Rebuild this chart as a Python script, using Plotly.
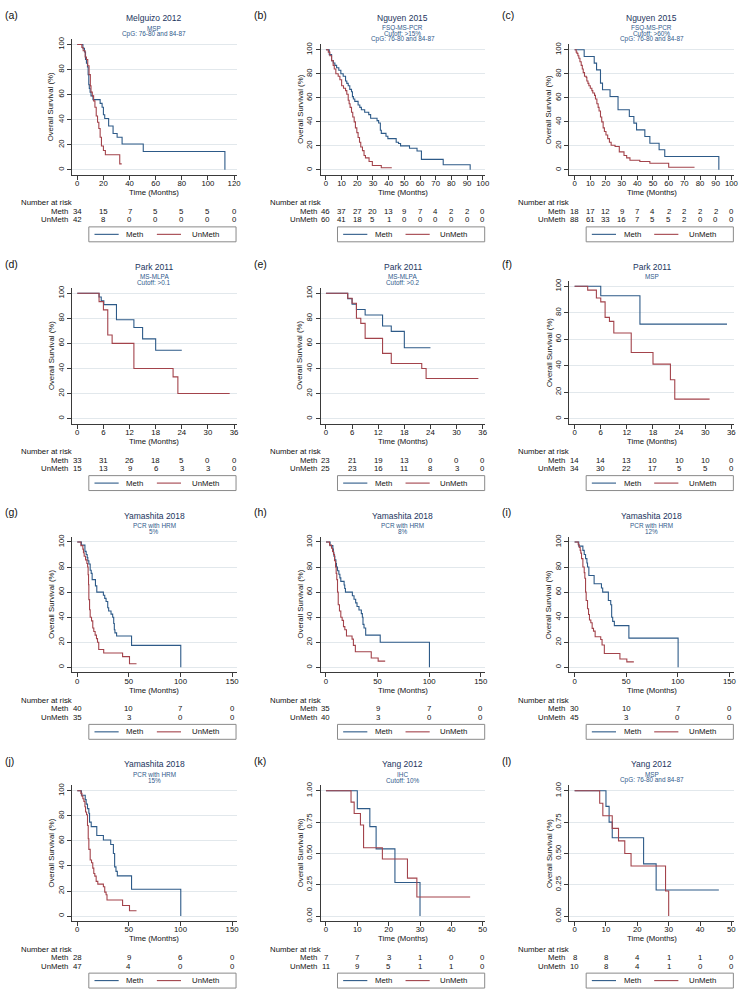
import plotly.graph_objects as go

# ---------------- data ----------------
# (a) Melguizo 2012
a_meth_t = [0, 4.3, 5.5, 6.3, 7, 7.8, 8.3, 8.8, 9.2, 9.8, 10.5, 12, 17.5, 19, 20, 21, 24, 27.4, 30.5, 34.3, 50.5, 113]
a_meth_s = [100, 97, 94, 88, 85, 82, 76, 68, 65, 62, 59, 56, 53, 50, 44, 41, 35, 29, 26, 20.6, 14.7, 0]
a_unmeth_t = [0, 3.5, 4.5, 6, 7, 8, 9, 10, 10.5, 11.5, 12.5, 13.5, 14.5, 15.5, 16.5, 17.5, 18.5, 20, 21.5, 32.5, 34]
a_unmeth_s = [100, 97.6, 95, 90, 88, 83, 76, 67, 62, 59, 55, 50, 43, 38, 33, 26, 19, 15.5, 12, 4.8, 4.8]
a_risk_meth = [34, 15, 7, 5, 5, 5, 0]
a_risk_unmeth = [42, 8, 0, 0, 0, 0, 0]

# (b) Nguyen 2015 >15%
b_meth_t = [0, 2.1, 3.6, 4.7, 5.7, 6.8, 8.2, 9.5, 11, 12.5, 13.3, 14.2, 15.2, 16.3, 16.9, 17.5, 18.4, 20.5, 21.6, 22.6,
            24.7, 27.3, 28.5, 32.6, 33.6, 34.7, 35.3, 38.3, 39.5, 44.8, 46.3, 47.6, 53.3, 58.1, 60.9, 74.8, 92]
b_meth_s = [100, 96, 91, 89, 87, 85, 83, 80, 78, 74, 72, 70, 67, 65, 61, 59, 57, 54, 52, 50,
            48, 46, 43, 41, 39, 33, 30.4, 28, 26, 23, 22, 20, 18, 15.7, 8.7, 4.3, 0]
b_unmeth_t = [0, 1.5, 2.5, 3.6, 4.6, 5.3, 6.3, 7.8, 8.9, 10, 11.2, 12.5, 13.3, 14.2, 14.8, 15.4, 16.3, 17.1, 18, 18.8,
              19.7, 20.5, 21.4, 22.2, 23.3, 24.3, 25.2, 27.5, 29.6, 35.3, 42]
b_unmeth_s = [100, 98, 95, 91, 87, 84, 80, 78, 75, 70, 68, 66, 63, 58, 55, 52, 48, 44, 40, 35,
              31, 27, 23, 19, 16, 12, 10, 7, 3.6, 1.8, 1.8]
b_risk_meth = [46, 37, 27, 20, 13, 9, 7, 4, 2, 2, 0]
b_risk_unmeth = [60, 41, 18, 5, 1, 0, 0, 0, 0, 0, 0]

# (c) Nguyen 2015 >60%
c_meth_t = [0, 6.1, 12.5, 14, 16.5, 17.8, 22.6, 27.7, 34.9, 37.8, 39.5, 44.8, 48, 53.9, 57.5, 92]
c_meth_s = [100, 94.4, 88.9, 83.3, 72.2, 66.7, 61.1, 50, 44.4, 38.9, 33.3, 27.8, 22.2, 16.7, 11.1, 0]
c_unmeth_t = [0, 1, 1.5, 2.1, 2.7, 3.4, 4.2, 4.9, 5.5, 6.3, 7.4, 7.8, 8.5, 9.1, 10, 11, 11.6, 12.7, 13.3, 14.2,
              15, 15.6, 16.5, 17.3, 18.2, 19, 20, 21.1, 22.2, 23.3, 25.8, 28.5, 31.5, 33.2, 35.3, 41.6, 48, 60, 76.5]
c_unmeth_s = [100, 98, 97, 95, 93, 90, 87, 84, 81, 78, 77, 74, 72, 70, 68, 66, 64, 62, 59, 55,
              52, 49, 44, 40, 35, 32, 29, 26, 23, 20.5, 19.5, 15, 12, 10, 8, 7, 5.5, 2.2, 2.2]
c_risk_meth = [18, 17, 12, 9, 7, 4, 2, 2, 2, 2, 0]
c_risk_unmeth = [88, 61, 33, 16, 7, 5, 5, 2, 0, 0, 0]

# (d) Park 2011 MS-MLPA >0.1
d_meth_t = [0, 5, 5.5, 6.1, 9, 13, 15, 18, 24]
d_meth_s = [100, 97, 93.9, 90.9, 78.8, 72.7, 63.6, 54.5, 54.5]
d_unmeth_t = [0, 5, 6, 7, 8, 13, 22, 23.1, 35]
d_unmeth_s = [100, 93.3, 86.7, 66.7, 60, 40, 33.3, 20, 20]
d_risk_meth = [33, 31, 26, 18, 5, 0, 0]
d_risk_unmeth = [15, 13, 9, 6, 3, 3, 0]

# (e) Park 2011 MS-MLPA >0.2
e_meth_t = [0, 5, 6, 7, 9, 13, 15, 18, 24]
e_meth_s = [100, 95.7, 91.3, 87, 82.6, 73.9, 69.6, 56.5, 56.5]
e_unmeth_t = [0, 5, 6, 7, 8, 9, 13, 15, 22, 23, 35]
e_unmeth_s = [100, 96, 92, 80, 76, 64, 52, 44, 40, 32, 32]
e_risk_meth = [23, 21, 19, 13, 0, 0, 0]
e_risk_unmeth = [25, 23, 16, 11, 8, 3, 0]

# (f) Park 2011 MSP
f_meth_t = [0, 6, 15, 35]
f_meth_s = [100, 92.9, 71.4, 71.4]
f_unmeth_t = [0, 3, 5, 6, 7, 8, 9, 13, 18, 22, 23, 31]
f_unmeth_s = [100, 97.1, 91.2, 88.2, 76.5, 73.5, 64.7, 50, 41.2, 29.4, 14.7, 14.7]
f_risk_meth = [14, 14, 13, 10, 10, 10, 0]
f_risk_unmeth = [34, 30, 22, 17, 5, 5, 0]

# (g) Yamashita 2018 5%
g_meth_t = [0, 4, 7.4, 8.6, 9.6, 10.2, 11.2, 12.5, 13.5, 14.4, 17.6, 18.9, 25.3, 26.6, 27.9, 29.5, 30.4, 32.7, 34.3, 35.3,
            35.9, 36.5, 38.1, 52.6, 100.3]
g_meth_s = [100, 97.5, 92.5, 90, 87.5, 85, 82.5, 77.5, 75, 70, 65, 60, 57.5, 55, 52.5, 47.5, 45, 42.5, 40, 35,
            30, 27.5, 25, 17.5, 0]
g_unmeth_t = [0, 3.5, 5.4, 6, 6.7, 8, 9.3, 10, 10.5, 10.9, 11.2, 11.9, 12.5, 13.8, 15, 16, 17.3, 18.6, 19.6, 20.8,
              25.6, 43.9, 50.6, 57.4]
g_unmeth_s = [100, 97.1, 94.3, 91.4, 88.6, 85.7, 82.9, 80, 74, 66, 54, 46, 40, 37.1, 31.4, 28.6, 25.7, 22.9, 20, 14.3,
              11.4, 8.6, 2.9, 2.9]
g_risk_meth = [40, 10, 7, 0]
g_risk_unmeth = [35, 3, 0, 0]

# (h) Yamashita 2018 8%
h_meth_t = [0, 4, 6.7, 7.2, 7.7, 8.6, 9.6, 10.2, 11.2, 12.5, 13.5, 14.4, 17.6, 18.2, 18.9, 25.6, 27.2, 28.8, 30.1, 32,
            34.3, 35.3, 35.9, 36.9, 38.5, 52.6, 100.3]
h_meth_s = [100, 97.1, 94.3, 91.4, 88.6, 85.7, 82.9, 80, 77.1, 74.3, 71.4, 68.6, 65.7, 62.9, 60, 57.1, 54.3, 51.4, 48.6, 45.7,
            42.9, 40, 34.3, 31.4, 25.7, 20, 0]
h_unmeth_t = [0, 3.5, 5.4, 6.4, 7.4, 8.3, 9.3, 9.9, 10.5, 11.2, 11.9, 13.1, 14.4, 15.7, 17, 18.3, 19.9, 25.3, 26.6, 28.5,
              43.9, 50.6, 57.4]
h_unmeth_s = [100, 97.5, 95, 92.5, 90, 85, 80, 75, 70, 60, 50, 45, 40, 37.5, 32.5, 30, 25, 22.5, 17.5, 12.5,
              7.5, 5, 5]
h_risk_meth = [35, 9, 7, 0]
h_risk_unmeth = [40, 3, 0, 0]

# (i) Yamashita 2018 12%
i_meth_t = [0, 4, 8, 9.3, 10.6, 11.9, 12.5, 13.8, 18.9, 26, 27.2, 32.7, 35, 35.9, 36.9, 38.5, 52.6, 100.3]
i_meth_s = [100, 96.7, 93.3, 90, 86.7, 83.3, 80, 73.3, 66.7, 63.3, 60, 53.3, 50, 40, 36.7, 33.3, 23.3, 0]
i_unmeth_t = [0, 3.5, 4.5, 5.4, 6, 6.7, 8, 9.3, 9.9, 10.6, 11.2, 12.5, 13.5, 14.4, 15.7, 17, 18.3, 19.9, 25.3, 26.6,
              28.8, 43.9, 50.6, 57.4]
i_unmeth_s = [100, 97.8, 95.6, 93.3, 91.1, 86.7, 80, 75.6, 71.1, 60, 53.3, 46.7, 42.2, 37.8, 35.6, 31.1, 28.9, 24.4, 22.2, 17.8,
              11.1, 6.7, 4.4, 4.4]
i_risk_meth = [30, 10, 7, 0]
i_risk_unmeth = [45, 3, 0, 0]

# (j) Yamashita 2018 15%
j_meth_t = [0, 4, 7.7, 8.6, 9.9, 11.2, 11.9, 13.5, 18.9, 25.3, 32.4, 35, 36.2, 37.5, 38.8, 52.6, 100.3]
j_meth_s = [100, 96.4, 92.9, 89.3, 85.7, 82.1, 75, 71.4, 64.3, 60.7, 57.1, 50, 39.3, 35.7, 32.1, 21.4, 0]
j_unmeth_t = [0, 3.5, 4.5, 5.4, 6.4, 7.4, 8, 9, 9.9, 10.6, 11.2, 12.5, 13.8, 15, 16, 17, 18.3, 19.9, 25.3, 26.6,
              27.9, 28.8, 43.9, 50.6, 57.4]
j_unmeth_s = [100, 97.9, 95.7, 93.6, 91.5, 87.2, 83, 80.9, 72.3, 61.7, 53.2, 44.7, 42.6, 38.3, 34, 31.9, 27.7, 25.5, 23.4, 19.1,
              17, 12.8, 8.5, 4.3, 4.3]
j_risk_meth = [28, 9, 6, 0]
j_risk_unmeth = [47, 4, 0, 0]

# (k) Yang 2012 IHC
k_meth_t = [0, 10, 14, 16, 22, 30]
k_meth_s = [1, 0.857, 0.714, 0.536, 0.268, 0]
k_unmeth_t = [0, 8, 9, 11, 12, 18, 26, 29, 46]
k_unmeth_s = [1, 0.909, 0.818, 0.727, 0.545, 0.455, 0.303, 0.152, 0.152]
k_risk_meth = [7, 7, 3, 1, 0, 0]
k_risk_unmeth = [11, 9, 5, 1, 1, 0]

# (l) Yang 2012 MSP
l_meth_t = [0, 10, 11, 12, 22, 26, 46]
l_meth_s = [1, 0.875, 0.75, 0.625, 0.417, 0.208, 0.208]
l_unmeth_t = [0, 8, 9, 12, 14, 16, 18, 29, 30]
l_unmeth_s = [1, 0.9, 0.8, 0.7, 0.6, 0.5, 0.4, 0.2, 0]
l_risk_meth = [8, 8, 4, 1, 1, 0]
l_risk_unmeth = [10, 8, 4, 1, 0, 0]

panel_labels = ["(a)", "(b)", "(c)", "(d)", "(e)", "(f)", "(g)", "(h)", "(i)", "(j)", "(k)", "(l)"]
panel_titles = ["Melguizo 2012", "Nguyen 2015", "Nguyen 2015", "Park 2011", "Park 2011", "Park 2011",
                "Yamashita 2018", "Yamashita 2018", "Yamashita 2018", "Yamashita 2018", "Yang 2012", "Yang 2012"]
panel_subtitles = [["MSP", "CpG: 76-80 and 84-87"],
                   ["FSQ-MS-PCR", "Cutoff: >15%", "CpG: 76-80 and 84-87"],
                   ["FSQ-MS-PCR", "Cutoff: >60%", "CpG: 76-80 and 84-87"],
                   ["MS-MLPA", "Cutoff: >0.1"],
                   ["MS-MLPA", "Cutoff: >0.2"],
                   ["MSP"],
                   ["PCR with HRM", "5%"],
                   ["PCR with HRM", "8%"],
                   ["PCR with HRM", "12%"],
                   ["PCR with HRM", "15%"],
                   ["IHC", "Cutoff: 10%"],
                   ["MSP", "CpG: 76-80 and 84-87"]]
x_max = [120, 100, 100, 36, 36, 36, 150, 150, 150, 150, 50, 50]
x_step = [20, 10, 10, 6, 6, 6, 50, 50, 50, 50, 10, 10]
y_ticks_pct = [0, 20, 40, 60, 80, 100]
y_ticks_frac = [0, 0.25, 0.5, 0.75, 1]
y_ticktext_frac = ["0.00", "0.25", "0.50", "0.75", "1.00"]
series_names = ["Meth", "UnMeth"]

curves = [(a_meth_t, a_meth_s, a_unmeth_t, a_unmeth_s), (b_meth_t, b_meth_s, b_unmeth_t, b_unmeth_s),
          (c_meth_t, c_meth_s, c_unmeth_t, c_unmeth_s), (d_meth_t, d_meth_s, d_unmeth_t, d_unmeth_s),
          (e_meth_t, e_meth_s, e_unmeth_t, e_unmeth_s), (f_meth_t, f_meth_s, f_unmeth_t, f_unmeth_s),
          (g_meth_t, g_meth_s, g_unmeth_t, g_unmeth_s), (h_meth_t, h_meth_s, h_unmeth_t, h_unmeth_s),
          (i_meth_t, i_meth_s, i_unmeth_t, i_unmeth_s), (j_meth_t, j_meth_s, j_unmeth_t, j_unmeth_s),
          (k_meth_t, k_meth_s, k_unmeth_t, k_unmeth_s), (l_meth_t, l_meth_s, l_unmeth_t, l_unmeth_s)]
risks = [(a_risk_meth, a_risk_unmeth), (b_risk_meth, b_risk_unmeth), (c_risk_meth, c_risk_unmeth),
         (d_risk_meth, d_risk_unmeth), (e_risk_meth, e_risk_unmeth), (f_risk_meth, f_risk_unmeth),
         (g_risk_meth, g_risk_unmeth), (h_risk_meth, h_risk_unmeth), (i_risk_meth, i_risk_unmeth),
         (j_risk_meth, j_risk_unmeth), (k_risk_meth, k_risk_unmeth), (l_risk_meth, l_risk_unmeth)]

# ---------------- style ----------------
W, H = 750, 1000
FONT = "Liberation Sans, Arial, Helvetica, sans-serif"
C_METH = "#2d5a88"
C_UNMETH = "#a3434b"
C_TITLE = "#1c3560"
C_SUB = "#2f5a8c"
C_AXIS = "#3a3a3a"
C_GRID = "#e2e8ec"
C_TEXT = "#111111"
FS = 7.8

fig = go.Figure()
layout = dict(width=W, height=H, margin=dict(l=0, r=0, t=0, b=0), autosize=False,
              paper_bgcolor="white", plot_bgcolor="white", showlegend=False)
annotations = []
shapes = []


def px(ox, p):
    return (ox + p) / W


def py(oy, p):
    return 1 - (oy + p) / H


for i in range(12):
    k = i + 1
    sfx = "" if k == 1 else str(k)
    xref, yref = "x" + sfx, "y" + sfx
    ox, oy = (i % 3) * 250, (i // 3) * 250
    frac = i >= 10
    ymax = 1 if frac else 100
    nsub = len(panel_subtitles[i])
    top100 = {1: 33.7, 2: 40.7, 3: 46.0}[nsub]
    bot0 = 166.7
    ys = (bot0 - top100) / ymax
    dom_top, dom_bot = top100 - 5.5, bot0 + 5.0
    yrange = [-5.0 / ys, ymax + 5.5 / ys]

    xm = x_max[i]
    x0p = 77.7
    xep = 233.3 if xm == 150 else 235.3
    xs = (xep - x0p) / xm
    dom_l, dom_r = 72.3, 238.0
    xrange = [-(x0p - dom_l) / xs, xm + (dom_r - xep) / xs]
    xt = list(range(0, xm + 1, x_step[i]))

    layout["xaxis" + sfx] = dict(
        domain=[px(ox, dom_l), px(ox, dom_r)], range=xrange, anchor=yref,
        tickvals=xt, ticks="outside", ticklen=4, tickwidth=1, tickcolor=C_AXIS,
        ticklabelstandoff=-3,
        showline=True, linecolor=C_AXIS, linewidth=1, showgrid=False, zeroline=False,
        tickfont=dict(family=FONT, size=FS, color=C_TEXT), fixedrange=True)
    layout["yaxis" + sfx] = dict(
        domain=[py(oy, dom_bot), py(oy, dom_top)], range=yrange, anchor=xref,
        tickvals=y_ticks_frac if frac else y_ticks_pct,
        ticktext=y_ticktext_frac if frac else [str(v) for v in y_ticks_pct],
        tickangle=-90, ticks="outside", ticklen=4, tickwidth=1, tickcolor=C_AXIS,
        showline=True, linecolor=C_AXIS, linewidth=1, showgrid=True, gridcolor=C_GRID,
        gridwidth=1, zeroline=False,
        tickfont=dict(family=FONT, size=FS, color=C_TEXT), fixedrange=True)

    mt, ms, ut, us = curves[i]
    for t, s, col, nm in ((mt, ms, C_METH, series_names[0]), (ut, us, C_UNMETH, series_names[1])):
        fig.add_trace(go.Scatter(x=t, y=s, mode="lines", line=dict(color=col, width=1.1, shape="hv"),
                                 name=nm, xaxis=xref, yaxis=yref, hoverinfo="skip"))

    def ann(x, y, text, size=FS, color=C_TEXT, xanchor="center", angle=0, xr="paper"):
        annotations.append(dict(x=x, y=y, xref=xr, yref="paper", text=text, showarrow=False,
                                xanchor=xanchor, yanchor="middle", textangle=angle,
                                font=dict(family=FONT, size=size, color=color)))

    cx = (dom_l + dom_r) / 2
    ann(px(ox, 3), py(oy, 11), panel_labels[i], size=10.5, xanchor="left")
    ann(px(ox, cx), py(oy, 14.3), panel_titles[i], size=8.5, color=C_TITLE)
    for j, st in enumerate(panel_subtitles[i]):
        ann(px(ox, cx), py(oy, 24.3 + j * 5.6), st, size=6.4, color=C_SUB)
    ann(px(ox, 51.7), py(oy, (dom_top + dom_bot) / 2), "Overall Survival (%)", angle=-90)
    ann(px(ox, cx), py(oy, 189.6), "Time (Months)")

    # number at risk table
    ann(px(ox, 19), py(oy, 200), "Number at risk", xanchor="left")
    ann(px(ox, 70.5), py(oy, 208.5), series_names[0], xanchor="right")
    ann(px(ox, 70.5), py(oy, 217), series_names[1], xanchor="right")
    rm, ru = risks[i]
    for tv, a, b in zip(xt, rm, ru):
        ann(tv, py(oy, 208.5), str(a), xr=xref)
        ann(tv, py(oy, 217), str(b), xr=xref)

    # legend
    shapes.append(dict(type="rect", xref="paper", yref="paper", x0=px(ox, 89.3), x1=px(ox, 237.3),
                       y0=py(oy, 239), y1=py(oy, 224), line=dict(color="#8a8a8a", width=1)))
    shapes.append(dict(type="line", xref="paper", yref="paper", x0=px(ox, 95), x1=px(ox, 119.3),
                       y0=py(oy, 231.5), y1=py(oy, 231.5), line=dict(color=C_METH, width=1.1)))
    shapes.append(dict(type="line", xref="paper", yref="paper", x0=px(ox, 157.7), x1=px(ox, 182),
                       y0=py(oy, 231.5), y1=py(oy, 231.5), line=dict(color=C_UNMETH, width=1.1)))
    ann(px(ox, 135.4), py(oy, 231.5), series_names[0])
    ann(px(ox, 206.3), py(oy, 231.5), series_names[1])

layout["annotations"] = annotations
layout["shapes"] = shapes
fig.update_layout(**layout)
fig.write_html("out.html", config={"displayModeBar": False},
               post_script="document.body.style.margin='0px';")
